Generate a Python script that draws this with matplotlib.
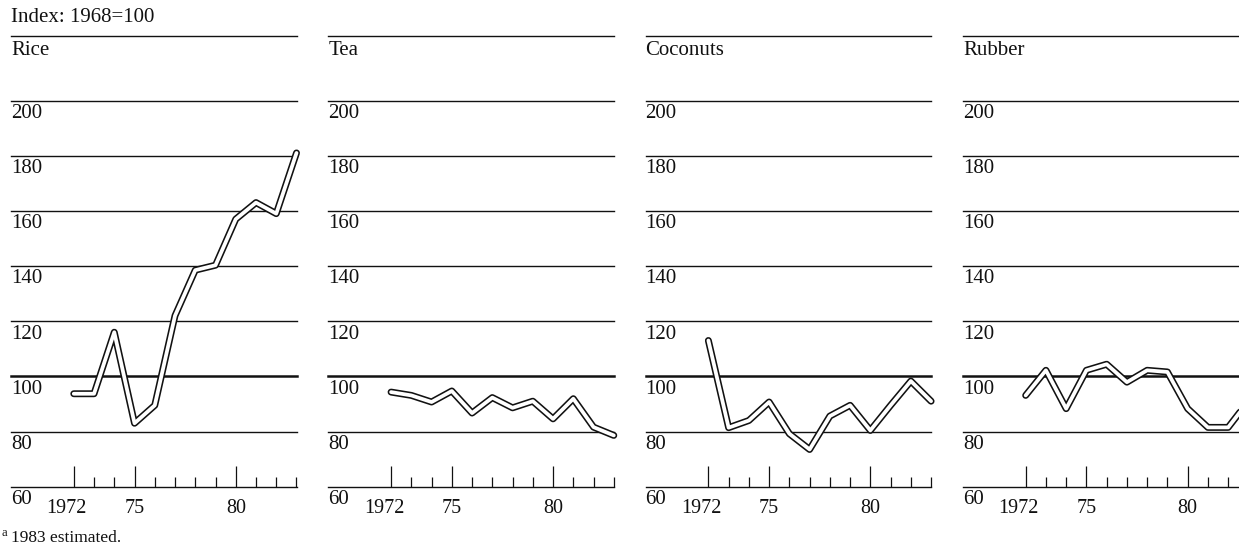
import numpy as np
import matplotlib
matplotlib.use('Agg')
import matplotlib.pyplot as plt

# index values, 1968 = 100 (1983 estimated)
years = list(range(1972, 1984))
rice = [93.7, 93.7, 116, 83, 89.5, 122, 138.5, 140.3, 157, 163, 159, 181]
tea = [94.3, 93.1, 90.7, 94.7, 86.7, 92.3, 88.6, 91, 84.6, 91.9, 81.6, 78.6]
coconuts = [113, 81.4, 84, 90.7, 79.2, 73.5, 85.6, 89.5, 80.4, 89.5, 98.3, 91]
rubber = [93.1, 102.2, 88.3, 102.2, 104.4, 97.9, 102.2, 101.6, 88.3, 81.5, 81.5, 91]

panel_names = ['Rice', 'Tea', 'Coconuts', 'Rubber']
panel_values = [rice, tea, coconuts, rubber]
grid_levels = [80, 100, 120, 140, 160, 180, 200]
major_years = [1972, 1975, 1980]
year_labels = ['1972', '75', '80']

plt.rcParams['font.family'] = ['Liberation Serif', 'DejaVu Serif']
FS = 15
INK = '#111111'
TOP = 223.5   # level of the header rule above each panel title

W, H = 1239, 552
fig = plt.figure(figsize=(W / 100, H / 100), dpi=100)
fig.patch.set_facecolor('white')

for i, (name, vals) in enumerate(zip(panel_names, panel_values)):
    left = 11 + 317.3 * i
    ax = fig.add_axes([left / W, 0.1183, 285.5 / W, 0.817])
    ax.set_xlim(1968.9, 1983.0)
    ax.set_ylim(60, TOP)
    ax.axis('off')

    # header rule + panel title
    ax.axhline(TOP, color=INK, lw=1.0, clip_on=False)
    ax.annotate(name, xy=(0, TOP), xycoords=('axes fraction', 'data'),
                xytext=(0, -10.3), textcoords='offset points',
                ha='left', va='center', fontsize=FS, color=INK)

    # horizontal rules with labels beneath
    for lev in grid_levels:
        ax.axhline(lev, color=INK, lw=1.8 if lev == 100 else 1.0, clip_on=False)
        ax.annotate(str(lev), xy=(0, lev), xycoords=('axes fraction', 'data'),
                    xytext=(0, -9.3), textcoords='offset points',
                    ha='left', va='center', fontsize=FS, color=INK)

    # base line at 60 with year ticks
    ax.axhline(60, color=INK, lw=1.0, clip_on=False)
    ax.annotate('60', xy=(0, 60), xycoords=('axes fraction', 'data'),
                xytext=(0, -9.0), textcoords='offset points',
                ha='left', va='center', fontsize=FS, color=INK)
    tick_top = [67.5 if y in major_years else 63.6 for y in years]
    ax.vlines(years, 60, tick_top, color=INK, lw=0.9, clip_on=False)
    for j, (yr, lab) in enumerate(zip(major_years, year_labels)):
        dx = -5 if j == 0 else 0
        ax.annotate(lab, xy=(yr, 60), xytext=(dx, -16), textcoords='offset points',
                    ha='center', va='center', fontsize=14.5, color=INK)

    # double (outlined) series line
    ax.plot(years, vals, color=INK, lw=5.0, solid_joinstyle='round',
            solid_capstyle='round', clip_on=False, zorder=3)
    ax.plot(years, vals, color='white', lw=2.7, solid_joinstyle='round',
            solid_capstyle='round', clip_on=False, zorder=4)

fig.text(11 / W, 1 - 18 / H, 'Index: 1968=100', ha='left', va='center',
         fontsize=FS, color=INK)
fig.text(2 / W, 1 - 533 / H, 'a', ha='left', va='center', fontsize=9, color=INK)
fig.text(11 / W, 1 - 538 / H, '1983 estimated.', ha='left', va='center',
         fontsize=12.5, color=INK)

fig.savefig('out.png', dpi=100, facecolor='white')
